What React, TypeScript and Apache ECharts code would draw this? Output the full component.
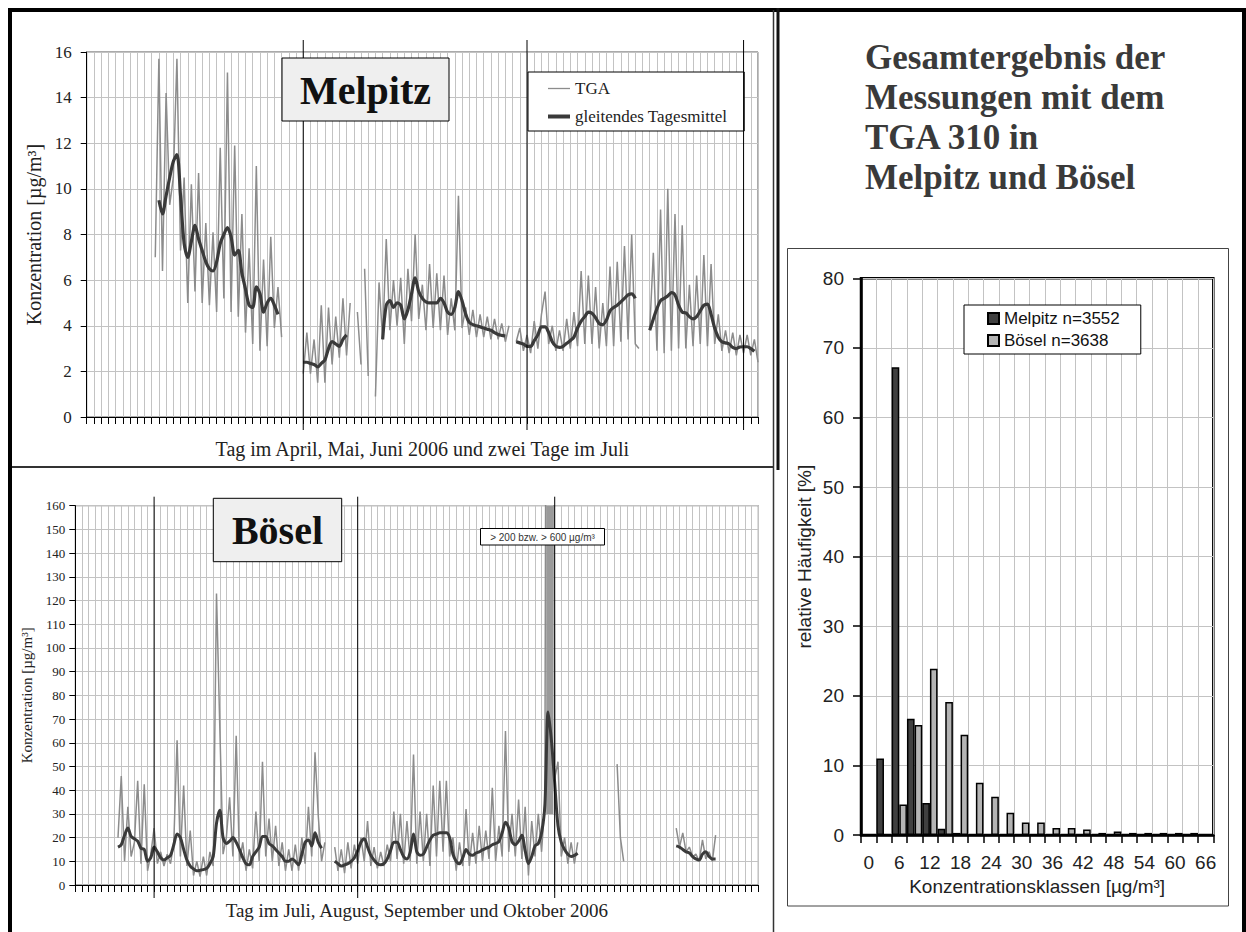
import React, { useEffect, useRef } from "react";
import * as echarts from "echarts";

const SERIF = '"Liberation Serif", "Times New Roman", serif';
const SANS = '"Liberation Sans", Arial, sans-serif';

// sampling step of all time series (days)
const STEP = 0.5;

// ---------- Melpitz (day 0 = 1 April 2006) ----------
const melpitzTgaApr = [7.0, 15.7, 6.4, 14.2, 9.3, 10.5, 15.7, 7.3, 10.5, 5.0, 10.2, 5.5, 10.7, 5.0, 8.5, 4.9, 8.1, 4.6, 11.8, 5.2, 15.1, 4.6, 11.9, 4.4, 8.9, 3.7, 7.4, 3.2, 11.0, 2.9, 6.9, 3.1, 7.9, 3.9, 5.7, 3.5];
const melpitzTgaMayA = [1.9, 3.7, 1.9, 3.4, 1.5, 4.9, 1.5, 4.8, 2.3, 4.4, 2.6, 5.2, 2.7, 5.0];
const melpitzTgaMayB = [4.6, 2.3];
const melpitzTgaMayC = [6.5, 1.8];
const melpitzTgaMayD = [0.9, 5.9, 3.4, 7.8, 3.8, 6.0, 4.0, 6.1, 3.2, 6.5, 4.2, 8.0, 4.3, 5.8, 3.8, 6.7, 3.9, 6.3, 3.8, 6.2, 3.6, 5.2, 3.8, 9.7, 3.9, 4.8, 3.6, 4.7, 3.5, 4.5, 3.5, 4.4, 3.4, 4.3, 3.4, 4.1, 3.3, 4.0];
const melpitzTgaJun = [3.3, 3.9, 2.9, 3.6, 2.8, 4.2, 3.0, 4.5, 5.5, 3.2, 4.0, 2.9, 3.8, 2.9, 4.3, 3.0, 4.6, 3.1, 6.4, 3.2, 6.2, 3.2, 5.7, 3.0, 5.0, 3.1, 6.6, 3.1, 6.8, 3.3, 7.5, 3.4, 8.0, 3.2, 3.0];
const melpitzTgaJul = [3.8, 7.2, 2.9, 9.1, 2.8, 10.0, 2.9, 8.9, 3.0, 8.4, 3.0, 5.8, 3.1, 6.2, 3.2, 7.1, 3.1, 6.7, 3.2, 4.5, 2.9, 3.8, 2.8, 3.7, 2.7, 3.6, 2.8, 3.6, 2.7, 3.4, 2.4];
const melpitzTgaStarts = [9.5, 30.0, 37.5, 38.5, 40.0, 59.5, 78.0];

const melpitzMeanApr = [9.5, 8.9, 9.7, 10.5, 11.2, 11.5, 9.7, 7.6, 7.0, 7.7, 8.4, 7.8, 7.3, 6.8, 6.5, 6.4, 6.8, 7.6, 8.0, 8.3, 7.9, 7.1, 7.3, 6.3, 5.6, 4.9, 4.8, 5.7, 5.4, 4.6, 5.0, 5.2, 4.9, 4.5];
const melpitzMeanMayA = [2.4, 2.4, 2.35, 2.3, 2.2, 2.35, 2.5, 3.0, 3.3, 3.2, 3.1, 3.4, 3.6];
const melpitzMeanMayB = [3.4, 4.9, 5.1, 4.8, 5.0, 4.9, 4.3, 4.7, 5.4, 6.1, 5.5, 5.2, 5.05, 5.0, 5.0, 5.0, 5.2, 5.0, 4.6, 4.5, 4.8, 5.5, 5.1, 4.5, 4.15, 4.05, 4.0, 3.95, 3.9, 3.85, 3.8, 3.7, 3.62, 3.58, 3.55];
const melpitzMeanJun = [3.3, 3.25, 3.2, 3.1, 3.1, 3.35, 3.6, 3.95, 3.95, 3.7, 3.3, 3.1, 3.05, 3.1, 3.23, 3.35, 3.5, 3.9, 4.2, 4.4, 4.6, 4.55, 4.35, 4.1, 4.05, 4.25, 4.65, 4.8, 4.9, 5.05, 5.2, 5.35, 5.4, 5.2];
const melpitzMeanJul = [3.8, 4.3, 4.75, 5.1, 5.2, 5.3, 5.45, 5.35, 4.9, 4.6, 4.56, 4.4, 4.3, 4.4, 4.65, 4.9, 4.95, 4.5, 3.9, 3.5, 3.3, 3.25, 3.2, 3.05, 3.0, 3.07, 3.08, 3.08, 3.0, 2.88];
const melpitzMeanStarts = [10.0, 30.0, 41.0, 59.5, 78.0];

const melpitzMonthStarts = [30, 61, 91];

// ---------- Bösel (day 0 = 20 July 2006) ----------
const boeselTgaJulSep = [20, 46, 10, 33, 12, 18, 44, 9, 42.5, 6, 13, 24, 9, 14, 8, 13, 9, 18, 61, 12, 42, 8, 23, 4, 10, 3.5, 12, 4, 14, 8, 123, 67, 13, 20, 37, 12, 63, 10, 18, 6, 15, 7, 31, 10, 52, 12, 28, 10, 25, 8, 18, 6, 15, 6, 17, 6, 20, 9, 33, 12, 56, 29, 10, 18];
const boeselTgaSepOct = [16, 6, 15, 5, 18, 7, 17, 9, 20, 10, 27, 8, 16, 7, 14, 8, 17, 10, 31, 11, 30, 9, 27, 10, 55, 9, 31, 10, 30, 8, 42, 12, 44, 14, 44, 12, 20, 6, 18, 8, 32, 8, 22, 9, 25, 10, 23, 11, 41, 10, 25, 12, 65, 14, 30, 12, 36, 11, 33, 4, 27, 12, 30, 14, 35, 600, 600, 45, 52, 12, 20, 9, 18, 9, 18];
const boeselTgaOctA = [51, 20, 10];
const boeselTgaOctB = [24, 16, 22, 14, 16, 12, 13, 10, 19, 11, 14, 10, 21];
const boeselTgaStarts = [6.5, 39.5, 82.5, 91.5];

const boeselMeanJulSep = [16, 17, 21, 24, 20.5, 19.5, 18.5, 15.5, 15, 10, 11.5, 16, 14, 11.5, 10.5, 11.5, 12.5, 17, 21.5, 20, 15, 10.5, 8, 6.8, 6, 6.2, 6.5, 7, 9, 12, 26, 31.5, 20, 17.5, 18.5, 20, 18, 15, 11.5, 9, 8.5, 12, 14, 16, 20.5, 20.5, 17.5, 16.5, 15, 13.5, 12, 10, 10, 11, 10, 8.5, 13, 18, 19, 16.5, 22, 18, 15.5];
const boeselMeanSepOct = [10, 9, 8, 8.5, 9, 10, 11.5, 14.5, 18, 19.5, 16, 12.5, 10.5, 9, 8.5, 9, 11, 14.5, 18, 18, 15, 12, 11, 14, 21.5, 14, 12.5, 13, 16, 19, 21, 21.5, 22, 22, 22, 20, 13, 10, 9, 11.5, 15, 13, 12.5, 13.5, 14, 14.8, 15.5, 16, 17, 17.5, 18.3, 22, 26.5, 24, 18.3, 17, 18.5, 21, 14.5, 9, 12, 16.5, 17.5, 22, 33.5, 73, 61, 43, 25, 18, 15, 13, 12, 12.5, 13.4];
const boeselMeanOct = [16.5, 16, 15, 14, 13.5, 12, 11, 10.5, 13, 14, 12, 11, 11];
const boeselMeanStarts = [6.5, 39.5, 91.5];

const boeselMonthStarts = [12, 43, 73];
const boeselOverflowDays = [71.7, 72.8];
const boeselOverflowRange = [30, 160];

// ---------- Histogram ----------
const histClasses = ["0", "3", "6", "9", "12", "15", "18", "21", "24", "27", "30", "33", "36", "39", "42", "45", "48", "51", "54", "57", "60", "63", "66"];
const histMelpitz = [0, 11.0, 67.2, 16.7, 4.6, 0.9, 0.3, 0, 0, 0, 0, 0, 0, 0, 0, 0, 0, 0, 0, 0, 0, 0, 0];
const histBoesel = [0, 0, 4.4, 15.8, 23.9, 19.1, 14.4, 7.5, 5.5, 3.2, 1.8, 1.8, 1.0, 1.0, 0.8, 0.3, 0.5, 0.3, 0.3, 0.3, 0.3, 0.3, 0];

const titleLines = ["Gesamtergebnis der", "Messungen mit dem", "TGA 310 in", "Melpitz und Bösel"];

const GRID = "#c3c3c3";
const TGA_COLOR = "#8c8c8c";
const MEAN_COLOR = "#3a3a3a";

function joinSegments(starts: number[], segs: number[][]) {
  const out: any[] = [];
  segs.forEach((vals, k) => {
    const s = starts[k];
    if (k > 0) out.push([s - STEP / 2, "-"]);
    vals.forEach((v, i) => out.push([s + i * STEP, v]));
  });
  return out;
}

function monthLineSeries(days: number[], axisIndex: number, yMax: number, extTop: number, extBottom: number) {
  return {
    type: "custom",
    xAxisIndex: axisIndex,
    yAxisIndex: axisIndex,
    silent: true,
    clip: false,
    z: 6,
    data: days.map((d) => [d, 0]),
    renderItem: (_p: any, api: any) => {
      const d = api.value(0);
      const top = api.coord([d, yMax]);
      const bot = api.coord([d, 0]);
      return {
        type: "line",
        shape: { x1: top[0], y1: top[1] - extTop, x2: bot[0], y2: bot[1] + extBottom },
        style: { stroke: "#000", lineWidth: 1 },
      };
    },
  };
}

function timeXAxis(gridIndex: number, max: number, name: string, nameGap: number, fontSize: number) {
  return {
    gridIndex,
    type: "value",
    min: 0,
    max,
    interval: 1,
    axisLine: { show: true, onZero: false, lineStyle: { color: "#000", width: 1 } },
    axisTick: { show: true, inside: false, length: 7, lineStyle: { color: "#000", width: 1 } },
    axisLabel: { show: false },
    splitLine: { show: true, lineStyle: { color: GRID, width: 1 } },
    name,
    nameLocation: "middle",
    nameGap,
    nameTextStyle: { fontFamily: SERIF, fontSize, color: "#222" },
  };
}

function concYAxis(gridIndex: number, max: number, interval: number, labelSize: number, margin: number, nameSize: number, nameGap: number) {
  return {
    gridIndex,
    type: "value",
    min: 0,
    max,
    interval,
    axisLine: { show: true, lineStyle: { color: "#000", width: 1 } },
    axisTick: { show: true, inside: false, length: 6, lineStyle: { color: "#000", width: 1 } },
    axisLabel: { fontFamily: SERIF, fontSize: labelSize, color: "#222", margin },
    splitLine: { show: true, lineStyle: { color: GRID, width: 1 } },
    name: "Konzentration [µg/m³]",
    nameLocation: "middle",
    nameGap,
    nameTextStyle: { fontFamily: SERIF, fontSize: nameSize, color: "#222" },
  };
}

const option: any = {
  animation: false,
  backgroundColor: "#fff",
  grid: [
    { left: 86.7, top: 52, width: 671.3, height: 365, show: true, borderColor: "#555", borderWidth: 1, backgroundColor: "transparent", outerBoundsMode: "none" },
    { left: 75.3, top: 505.7, width: 683, height: 379.3, show: true, borderColor: "#555", borderWidth: 1, backgroundColor: "transparent", outerBoundsMode: "none" },
    { left: 861, top: 278.3, width: 352.3, height: 556.7, show: true, borderColor: "#000", borderWidth: 2.5, backgroundColor: "transparent", outerBoundsMode: "none" },
  ],
  xAxis: [
    timeXAxis(0, 93, "Tag im April, Mai, Juni 2006 und zwei Tage im Juli", 22, 20),
    timeXAxis(1, 104, "Tag im Juli, August, September und Oktober 2006", 16, 19),
    {
      gridIndex: 2,
      type: "category",
      data: histClasses,
      boundaryGap: true,
      axisLine: { show: true, lineStyle: { color: "#000", width: 2.5 } },
      axisTick: { show: true, interval: 0, alignWithLabel: false, length: 8, lineStyle: { color: "#000", width: 1.5 } },
      axisLabel: { interval: 1, fontFamily: SANS, fontSize: 19, color: "#222", margin: 18 },
      splitLine: { show: true, interval: 0, lineStyle: { color: GRID, width: 1 } },
      name: "Konzentrationsklassen [µg/m³]",
      nameLocation: "middle",
      nameGap: 41,
      nameTextStyle: { fontFamily: SANS, fontSize: 19, color: "#222" },
    },
  ],
  yAxis: [
    concYAxis(0, 16, 2, 17, 15, 20, 41),
    concYAxis(1, 160, 10, 13, 10, 15, 38),
    {
      gridIndex: 2,
      type: "value",
      min: 0,
      max: 80,
      interval: 10,
      axisLine: { show: true, lineStyle: { color: "#000", width: 2.5 } },
      axisTick: { show: true, length: 8, lineStyle: { color: "#000", width: 1.5 } },
      axisLabel: { fontFamily: SANS, fontSize: 19, color: "#222", margin: 17 },
      splitLine: { show: true, lineStyle: { color: GRID, width: 1 } },
      name: "relative Häufigkeit [%]",
      nameLocation: "middle",
      nameGap: 47,
      nameTextStyle: { fontFamily: SANS, fontSize: 19, color: "#222" },
    },
  ],
  legend: [
    {
      data: [
        { name: "TGA", icon: "path://M0 0H22V1.3H0Z" },
        { name: "gleitendes Tagesmittel", icon: "path://M0 0H22V4H0Z" },
      ],
      orient: "vertical",
      left: 528,
      top: 72,
      padding: [8, 17, 6, 20],
      itemWidth: 22,
      itemHeight: 14,
      itemGap: 11,
      itemTextGap: 3,
      borderColor: "#000",
      borderWidth: 1,
      backgroundColor: "#fff",
      selectedMode: false,
      textStyle: { fontFamily: SERIF, fontSize: 17, color: "#222" },
    },
    {
      data: ["Melpitz n=3552", "Bösel n=3638"],
      orient: "vertical",
      left: 964,
      top: 305,
      padding: [5, 21, 5, 23],
      itemWidth: 11,
      itemHeight: 11,
      itemGap: 5,
      itemTextGap: 5,
      icon: "rect",
      borderColor: "#000",
      borderWidth: 1,
      backgroundColor: "#fff",
      selectedMode: false,
      textStyle: { fontFamily: SANS, fontSize: 17, color: "#111" },
    },
  ],
  series: [
    {
      name: "TGA",
      type: "line",
      xAxisIndex: 0,
      yAxisIndex: 0,
      symbol: "none",
      showSymbol: false,
      connectNulls: false,
      z: 3,
      lineStyle: { color: TGA_COLOR, width: 1.5 },
      itemStyle: { color: TGA_COLOR },
      data: joinSegments(melpitzTgaStarts, [melpitzTgaApr, melpitzTgaMayA, melpitzTgaMayB, melpitzTgaMayC, melpitzTgaMayD, melpitzTgaJun, melpitzTgaJul]),
    },
    {
      name: "gleitendes Tagesmittel",
      type: "line",
      xAxisIndex: 0,
      yAxisIndex: 0,
      symbol: "none",
      showSymbol: false,
      smooth: 0.3,
      connectNulls: false,
      z: 4,
      lineStyle: { color: MEAN_COLOR, width: 3.2 },
      itemStyle: { color: MEAN_COLOR },
      data: joinSegments(melpitzMeanStarts, [melpitzMeanApr, melpitzMeanMayA, melpitzMeanMayB, melpitzMeanJun, melpitzMeanJul]),
    },
    monthLineSeries(melpitzMonthStarts, 0, 16, 12, 13),
    {
      name: "TGA Bösel",
      type: "line",
      xAxisIndex: 1,
      yAxisIndex: 1,
      symbol: "none",
      showSymbol: false,
      connectNulls: false,
      z: 3,
      lineStyle: { color: TGA_COLOR, width: 1.5 },
      itemStyle: { color: TGA_COLOR },
      data: joinSegments(boeselTgaStarts, [boeselTgaJulSep, boeselTgaSepOct, boeselTgaOctA, boeselTgaOctB]),
      markArea: {
        silent: true,
        itemStyle: { color: "#9a9a9a" },
        data: [[{ xAxis: boeselOverflowDays[0], yAxis: boeselOverflowRange[0] }, { xAxis: boeselOverflowDays[1], yAxis: boeselOverflowRange[1] }]],
      },
    },
    {
      name: "gleitendes Tagesmittel Bösel",
      type: "line",
      xAxisIndex: 1,
      yAxisIndex: 1,
      symbol: "none",
      showSymbol: false,
      smooth: 0.3,
      connectNulls: false,
      z: 4,
      lineStyle: { color: MEAN_COLOR, width: 3 },
      itemStyle: { color: MEAN_COLOR },
      data: joinSegments(boeselMeanStarts, [boeselMeanJulSep, boeselMeanSepOct, boeselMeanOct]),
    },
    monthLineSeries(boeselMonthStarts, 1, 160, 9, 13),
    {
      name: "Melpitz n=3552",
      type: "bar",
      xAxisIndex: 2,
      yAxisIndex: 2,
      barGap: "0%",
      barCategoryGap: "0%",
      z: 3,
      itemStyle: { color: "#404040", borderColor: "#000", borderWidth: 1.5 },
      data: histMelpitz,
    },
    {
      name: "Bösel n=3638",
      type: "bar",
      xAxisIndex: 2,
      yAxisIndex: 2,
      barGap: "0%",
      barCategoryGap: "0%",
      z: 3,
      itemStyle: { color: "#b4b4b4", borderColor: "#000", borderWidth: 1.5 },
      data: histBoesel,
    },
  ],
  graphic: [
    { type: "rect", z: 60, silent: true, shape: { x: 8, y: 8, width: 1238, height: 4 }, style: { fill: "#000" } },
    { type: "rect", z: 60, silent: true, shape: { x: 8, y: 8, width: 4, height: 924 }, style: { fill: "#000" } },
    { type: "rect", z: 60, silent: true, shape: { x: 1242, y: 8, width: 4, height: 924 }, style: { fill: "#000" } },
    { type: "line", z: 60, silent: true, shape: { x1: 773.5, y1: 10, x2: 773.5, y2: 932 }, style: { stroke: "#333", lineWidth: 1.5 } },
    { type: "rect", z: 60, silent: true, shape: { x: 776.5, y: 8, width: 3, height: 462 }, style: { fill: "#111" } },
    { type: "line", z: 60, silent: true, shape: { x1: 12, y1: 467, x2: 774, y2: 467 }, style: { stroke: "#333", lineWidth: 2 } },
    { type: "rect", z: 60, silent: true, shape: { x: 787.5, y: 248.5, width: 441, height: 657.5 }, style: { fill: "none", stroke: "#444", lineWidth: 1 } },
    { type: "rect", z: 50, silent: true, shape: { x: 282, y: 58, width: 167, height: 63 }, style: { fill: "#efefef", stroke: "#000", lineWidth: 1 } },
    { type: "text", z: 51, silent: true, x: 365.5, y: 90, style: { text: "Melpitz", font: `bold 40px ${SERIF}`, fill: "#111", textAlign: "center", textVerticalAlign: "middle" } },
    { type: "rect", z: 50, silent: true, shape: { x: 213.3, y: 498.3, width: 128.4, height: 63.4 }, style: { fill: "#efefef", stroke: "#000", lineWidth: 1 } },
    { type: "text", z: 51, silent: true, x: 277.5, y: 530.5, style: { text: "Bösel", font: `bold 40px ${SERIF}`, fill: "#111", textAlign: "center", textVerticalAlign: "middle" } },
    { type: "rect", z: 50, silent: true, shape: { x: 480.5, y: 528.5, width: 124, height: 16.5 }, style: { fill: "#fff", stroke: "#000", lineWidth: 1 } },
    { type: "text", z: 51, silent: true, x: 542.5, y: 537, style: { text: "> 200 bzw. > 600 µg/m³", font: `10px ${SANS}`, fill: "#333", textAlign: "center", textVerticalAlign: "middle" } },
    ...titleLines.map((t, i) => ({
      type: "text",
      z: 51,
      silent: true,
      x: 865,
      y: 57.5 + i * 40,
      style: { text: t, font: `bold 35px ${SERIF}`, fill: "#3a3a3a", textAlign: "left", textVerticalAlign: "middle" },
    })),
  ],
};

export default function App() {
  const ref = useRef<HTMLDivElement>(null);
  useEffect(() => {
    const chart = echarts.init(ref.current as HTMLDivElement, null, { renderer: "svg" });
    chart.setOption(option);
    return () => chart.dispose();
  }, []);
  return <div ref={ref} style={{ position: "fixed", left: 0, top: 0, width: 1246, height: 932, background: "#fff" }} />;
}
